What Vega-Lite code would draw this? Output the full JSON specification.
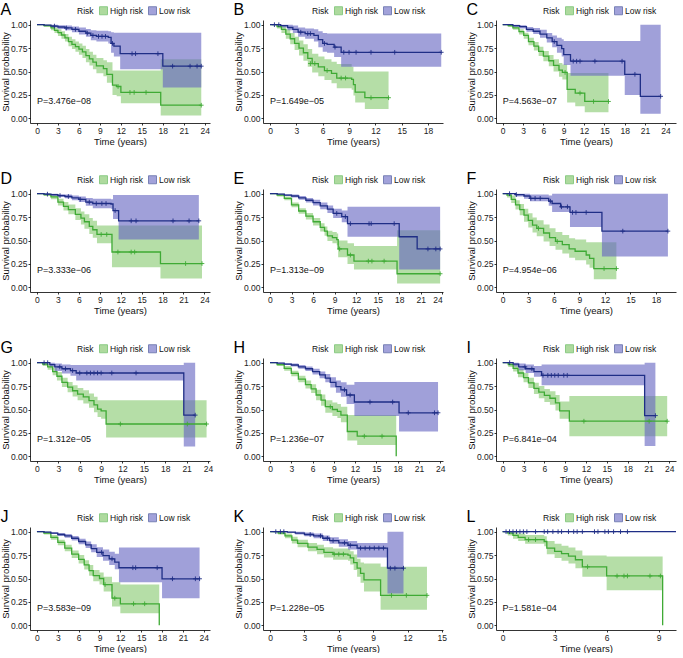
{
"$schema":"https://vega.github.io/schema/vega-lite/v6.json",
"background":"white",
"padding":{"left":0,"top":2,"right":0,"bottom":0},
"config":{
"font":"Liberation Sans",
"view":{"stroke":null},
"axis":{"grid":false,"domainColor":"#000","tickColor":"#000","domainWidth":0.8,"tickWidth":0.8,"tickSize":2,"labelColor":"#222","labelFontSize":8.5,"labelPadding":1,"titleFontSize":9.5,"titleFontWeight":"normal","titleColor":"#111","titlePadding":2},
"axisY":{"titlePadding":0},
"title":{"anchor":"start","frame":"bounds","fontSize":16,"fontWeight":"normal","offset":-12,"baseline":"alphabetic","color":"#000"},
"legend":{"orient":"none","direction":"horizontal","titleOrient":"left","titleFontSize":8.5,"titleFontWeight":"normal","titleColor":"#111","labelFontSize":8.5,"labelColor":"#111","symbolType":"square","symbolSize":64,"symbolOpacity":0.6,"titlePadding":5,"columnPadding":2,"labelOffset":2,"symbolStrokeWidth":1}
},
"datasets":{
"A":[
{"g":"H","t":0,"s":1,"l":1,"u":1},{"g":"H","t":1,"s":0.99,"l":0.975,"u":1},{"g":"H","t":2,"s":0.965,"l":0.94,"u":0.99},{"g":"H","t":2.5,"s":0.94,"l":0.91,"u":0.97},{"g":"H","t":3,"s":0.915,"l":0.88,"u":0.95},{"g":"H","t":3.5,"s":0.89,"l":0.85,"u":0.93},{"g":"H","t":4,"s":0.86,"l":0.82,"u":0.9},{"g":"H","t":4.5,"s":0.82,"l":0.77,"u":0.87},{"g":"H","t":5,"s":0.79,"l":0.74,"u":0.845},{"g":"H","t":5.5,"s":0.765,"l":0.71,"u":0.82},{"g":"H","t":6,"s":0.74,"l":0.68,"u":0.8},{"g":"H","t":6.5,"s":0.71,"l":0.645,"u":0.775},{"g":"H","t":7,"s":0.67,"l":0.6,"u":0.74},{"g":"H","t":7.5,"s":0.635,"l":0.565,"u":0.71},{"g":"H","t":8,"s":0.6,"l":0.525,"u":0.68},{"g":"H","t":8.5,"s":0.56,"l":0.48,"u":0.645},{"g":"H","t":9.5,"s":0.53,"l":0.45,"u":0.62},{"g":"H","t":10,"s":0.47,"l":0.38,"u":0.6},{"g":"H","t":10.8,"s":0.355,"l":0.25,"u":0.51},{"g":"H","t":11.4,"s":0.34,"l":0.235,"u":0.51},{"g":"H","t":12,"s":0.277,"l":0.16,"u":0.51},{"g":"H","t":17.7,"s":0.14,"l":0.03,"u":0.63},{"g":"H","t":23.5,"s":0.14,"l":0.03,"u":0.63},
{"g":"H","t":11.6,"s":0.34,"c":1},{"g":"H","t":13.3,"s":0.277,"c":1},{"g":"H","t":13.9,"s":0.277,"c":1},{"g":"H","t":15.6,"s":0.277,"c":1},{"g":"H","t":23.5,"s":0.14,"c":1},
{"g":"L","t":0,"s":1,"l":1,"u":1},{"g":"L","t":1,"s":0.995,"l":0.985,"u":1},{"g":"L","t":2,"s":0.985,"l":0.97,"u":1},{"g":"L","t":3,"s":0.975,"l":0.955,"u":0.995},{"g":"L","t":4,"s":0.965,"l":0.94,"u":0.99},{"g":"L","t":5,"s":0.95,"l":0.92,"u":0.98},{"g":"L","t":6,"s":0.93,"l":0.895,"u":0.97},{"g":"L","t":7,"s":0.91,"l":0.87,"u":0.955},{"g":"L","t":7.7,"s":0.885,"l":0.835,"u":0.94},{"g":"L","t":8.5,"s":0.875,"l":0.82,"u":0.935},{"g":"L","t":10.2,"s":0.865,"l":0.8,"u":0.93},{"g":"L","t":10.6,"s":0.8,"l":0.7,"u":0.92},{"g":"L","t":11,"s":0.77,"l":0.66,"u":0.915},{"g":"L","t":11.9,"s":0.69,"l":0.525,"u":0.915},{"g":"L","t":18,"s":0.557,"l":0.33,"u":0.915},{"g":"L","t":23.5,"s":0.557,"l":0.33,"u":0.915},
{"g":"L","t":2.5,"s":0.985,"c":1},{"g":"L","t":4.2,"s":0.965,"c":1},{"g":"L","t":5.5,"s":0.95,"c":1},{"g":"L","t":7.2,"s":0.91,"c":1},{"g":"L","t":8,"s":0.885,"c":1},{"g":"L","t":8.8,"s":0.875,"c":1},{"g":"L","t":9.3,"s":0.875,"c":1},{"g":"L","t":9.8,"s":0.875,"c":1},{"g":"L","t":10.8,"s":0.8,"c":1},{"g":"L","t":13.6,"s":0.69,"c":1},{"g":"L","t":14.1,"s":0.69,"c":1},{"g":"L","t":17.3,"s":0.69,"c":1},{"g":"L","t":19.4,"s":0.557,"c":1},{"g":"L","t":21.9,"s":0.557,"c":1},{"g":"L","t":22.9,"s":0.557,"c":1},{"g":"L","t":23.5,"s":0.557,"c":1}
],
"B":[
{"g":"H","t":0,"s":1,"l":1,"u":1},{"g":"H","t":0.8,"s":0.98,"l":0.96,"u":1},{"g":"H","t":1.3,"s":0.95,"l":0.91,"u":0.99},{"g":"H","t":1.8,"s":0.9,"l":0.85,"u":0.95},{"g":"H","t":2.3,"s":0.85,"l":0.79,"u":0.91},{"g":"H","t":2.8,"s":0.8,"l":0.73,"u":0.87},{"g":"H","t":3.3,"s":0.75,"l":0.67,"u":0.83},{"g":"H","t":3.8,"s":0.7,"l":0.615,"u":0.79},{"g":"H","t":4.3,"s":0.64,"l":0.55,"u":0.74},{"g":"H","t":4.8,"s":0.585,"l":0.49,"u":0.69},{"g":"H","t":5.5,"s":0.55,"l":0.45,"u":0.66},{"g":"H","t":6.2,"s":0.51,"l":0.41,"u":0.63},{"g":"H","t":7,"s":0.48,"l":0.375,"u":0.605},{"g":"H","t":7.6,"s":0.43,"l":0.32,"u":0.58},{"g":"H","t":9.3,"s":0.415,"l":0.305,"u":0.55},{"g":"H","t":9.5,"s":0.36,"l":0.245,"u":0.5},{"g":"H","t":9.7,"s":0.28,"l":0.17,"u":0.5},{"g":"H","t":10.8,"s":0.22,"l":0.1,"u":0.5},{"g":"H","t":13.5,"s":0.22,"l":0.1,"u":0.5},
{"g":"H","t":4.6,"s":0.585,"c":1},{"g":"H","t":5.1,"s":0.585,"c":1},{"g":"H","t":6.5,"s":0.51,"c":1},{"g":"H","t":8.1,"s":0.43,"c":1},{"g":"H","t":8.6,"s":0.43,"c":1},{"g":"H","t":11.5,"s":0.22,"c":1},{"g":"H","t":13.5,"s":0.22,"c":1},
{"g":"L","t":0,"s":1,"l":1,"u":1},{"g":"L","t":1.2,"s":0.99,"l":0.97,"u":1},{"g":"L","t":2,"s":0.97,"l":0.94,"u":1},{"g":"L","t":2.6,"s":0.95,"l":0.91,"u":0.99},{"g":"L","t":3.2,"s":0.92,"l":0.87,"u":0.97},{"g":"L","t":4,"s":0.905,"l":0.85,"u":0.96},{"g":"L","t":5,"s":0.885,"l":0.82,"u":0.95},{"g":"L","t":5.5,"s":0.84,"l":0.76,"u":0.93},{"g":"L","t":6,"s":0.8,"l":0.71,"u":0.91},{"g":"L","t":6.5,"s":0.79,"l":0.7,"u":0.905},{"g":"L","t":7.3,"s":0.76,"l":0.655,"u":0.905},{"g":"L","t":8.1,"s":0.705,"l":0.55,"u":0.905},{"g":"L","t":19.5,"s":0.705,"l":0.55,"u":0.905},
{"g":"L","t":0.5,"s":1,"c":1},{"g":"L","t":1,"s":1,"c":1},{"g":"L","t":3.5,"s":0.92,"c":1},{"g":"L","t":4.3,"s":0.905,"c":1},{"g":"L","t":4.6,"s":0.905,"c":1},{"g":"L","t":6.2,"s":0.8,"c":1},{"g":"L","t":7.4,"s":0.76,"c":1},{"g":"L","t":8.4,"s":0.705,"c":1},{"g":"L","t":9,"s":0.705,"c":1},{"g":"L","t":9.8,"s":0.705,"c":1},{"g":"L","t":11.5,"s":0.705,"c":1},{"g":"L","t":14.2,"s":0.705,"c":1},{"g":"L","t":19.5,"s":0.705,"c":1}
],
"C":[
{"g":"H","t":0,"s":1,"l":1,"u":1},{"g":"H","t":0.8,"s":0.99,"l":0.975,"u":1},{"g":"H","t":1.5,"s":0.965,"l":0.945,"u":0.985},{"g":"H","t":2.4,"s":0.925,"l":0.895,"u":0.95},{"g":"H","t":3.1,"s":0.885,"l":0.85,"u":0.915},{"g":"H","t":3.8,"s":0.82,"l":0.78,"u":0.86},{"g":"H","t":4.6,"s":0.77,"l":0.725,"u":0.815},{"g":"H","t":5.3,"s":0.715,"l":0.665,"u":0.765},{"g":"H","t":6,"s":0.665,"l":0.61,"u":0.72},{"g":"H","t":6.8,"s":0.615,"l":0.555,"u":0.675},{"g":"H","t":7.5,"s":0.565,"l":0.5,"u":0.63},{"g":"H","t":8.3,"s":0.515,"l":0.445,"u":0.59},{"g":"H","t":8.8,"s":0.49,"l":0.415,"u":0.575},{"g":"H","t":9.5,"s":0.31,"l":0.17,"u":0.485},{"g":"H","t":10.7,"s":0.27,"l":0.13,"u":0.485},{"g":"H","t":12.1,"s":0.18,"l":0.065,"u":0.485},{"g":"H","t":15.6,"s":0.18,"l":0.065,"u":0.485},
{"g":"H","t":9.2,"s":0.49,"c":1},{"g":"H","t":11.4,"s":0.27,"c":1},{"g":"H","t":13.4,"s":0.18,"c":1},{"g":"H","t":15.6,"s":0.18,"c":1},
{"g":"L","t":0,"s":1,"l":1,"u":1},{"g":"L","t":1.5,"s":0.99,"l":0.975,"u":1},{"g":"L","t":2.5,"s":0.98,"l":0.96,"u":0.995},{"g":"L","t":3.5,"s":0.95,"l":0.925,"u":0.975},{"g":"L","t":4.5,"s":0.93,"l":0.9,"u":0.965},{"g":"L","t":5.5,"s":0.9,"l":0.86,"u":0.945},{"g":"L","t":6.5,"s":0.86,"l":0.81,"u":0.91},{"g":"L","t":7.3,"s":0.82,"l":0.76,"u":0.885},{"g":"L","t":8,"s":0.78,"l":0.7,"u":0.86},{"g":"L","t":8.7,"s":0.745,"l":0.66,"u":0.845},{"g":"L","t":9,"s":0.68,"l":0.57,"u":0.825},{"g":"L","t":10,"s":0.61,"l":0.455,"u":0.825},{"g":"L","t":18,"s":0.47,"l":0.25,"u":0.825},{"g":"L","t":20.3,"s":0.235,"l":0.05,"u":1},{"g":"L","t":23.3,"s":0.235,"l":0.05,"u":1},
{"g":"L","t":7.6,"s":0.82,"c":1},{"g":"L","t":10.4,"s":0.61,"c":1},{"g":"L","t":10.9,"s":0.61,"c":1},{"g":"L","t":11.4,"s":0.61,"c":1},{"g":"L","t":13.6,"s":0.61,"c":1},{"g":"L","t":17.6,"s":0.61,"c":1},{"g":"L","t":19.5,"s":0.47,"c":1},{"g":"L","t":23.3,"s":0.235,"c":1}
],
"D":[
{"g":"H","t":0,"s":1,"l":1,"u":1},{"g":"H","t":1,"s":0.99,"l":0.975,"u":1},{"g":"H","t":2,"s":0.965,"l":0.94,"u":0.99},{"g":"H","t":3,"s":0.91,"l":0.875,"u":0.945},{"g":"H","t":3.8,"s":0.865,"l":0.82,"u":0.91},{"g":"H","t":4.5,"s":0.83,"l":0.78,"u":0.885},{"g":"H","t":5.5,"s":0.78,"l":0.72,"u":0.845},{"g":"H","t":6.3,"s":0.74,"l":0.67,"u":0.81},{"g":"H","t":6.8,"s":0.7,"l":0.625,"u":0.78},{"g":"H","t":7.5,"s":0.65,"l":0.57,"u":0.74},{"g":"H","t":8,"s":0.615,"l":0.53,"u":0.71},{"g":"H","t":8.6,"s":0.565,"l":0.47,"u":0.66},{"g":"H","t":10.75,"s":0.377,"l":0.215,"u":0.66},{"g":"H","t":17.7,"s":0.254,"l":0.095,"u":0.66},{"g":"H","t":23.65,"s":0.254,"l":0.095,"u":0.66},
{"g":"H","t":9.2,"s":0.565,"c":1},{"g":"H","t":10,"s":0.565,"c":1},{"g":"H","t":11.6,"s":0.377,"c":1},{"g":"H","t":13.5,"s":0.377,"c":1},{"g":"H","t":14,"s":0.377,"c":1},{"g":"H","t":21.3,"s":0.254,"c":1},{"g":"H","t":23.65,"s":0.254,"c":1},
{"g":"L","t":0,"s":1,"l":1,"u":1},{"g":"L","t":1,"s":0.995,"l":0.985,"u":1},{"g":"L","t":2,"s":0.99,"l":0.975,"u":1},{"g":"L","t":3,"s":0.98,"l":0.965,"u":0.995},{"g":"L","t":4,"s":0.97,"l":0.95,"u":0.99},{"g":"L","t":5,"s":0.955,"l":0.93,"u":0.98},{"g":"L","t":6,"s":0.94,"l":0.91,"u":0.97},{"g":"L","t":7,"s":0.91,"l":0.87,"u":0.955},{"g":"L","t":8,"s":0.895,"l":0.845,"u":0.945},{"g":"L","t":10.6,"s":0.89,"l":0.84,"u":0.94},{"g":"L","t":10.9,"s":0.82,"l":0.73,"u":0.985},{"g":"L","t":11.7,"s":0.71,"l":0.51,"u":0.985},{"g":"L","t":23.2,"s":0.71,"l":0.51,"u":0.985},
{"g":"L","t":1.5,"s":0.995,"c":1},{"g":"L","t":3.3,"s":0.98,"c":1},{"g":"L","t":4.5,"s":0.97,"c":1},{"g":"L","t":6.2,"s":0.94,"c":1},{"g":"L","t":7.5,"s":0.91,"c":1},{"g":"L","t":8.5,"s":0.895,"c":1},{"g":"L","t":9.3,"s":0.895,"c":1},{"g":"L","t":9.9,"s":0.895,"c":1},{"g":"L","t":11.2,"s":0.82,"c":1},{"g":"L","t":13.5,"s":0.71,"c":1},{"g":"L","t":14.2,"s":0.71,"c":1},{"g":"L","t":19.5,"s":0.71,"c":1},{"g":"L","t":21.8,"s":0.71,"c":1},{"g":"L","t":23.2,"s":0.71,"c":1}
],
"E":[
{"g":"H","t":0,"s":1,"l":1,"u":1},{"g":"H","t":1,"s":0.985,"l":0.97,"u":1},{"g":"H","t":2,"s":0.95,"l":0.93,"u":0.97},{"g":"H","t":3,"s":0.88,"l":0.855,"u":0.905},{"g":"H","t":4,"s":0.815,"l":0.785,"u":0.845},{"g":"H","t":5,"s":0.76,"l":0.725,"u":0.795},{"g":"H","t":6,"s":0.7,"l":0.66,"u":0.74},{"g":"H","t":7,"s":0.64,"l":0.595,"u":0.685},{"g":"H","t":7.6,"s":0.6,"l":0.55,"u":0.65},{"g":"H","t":8,"s":0.55,"l":0.495,"u":0.605},{"g":"H","t":8.7,"s":0.53,"l":0.47,"u":0.59},{"g":"H","t":9.3,"s":0.51,"l":0.45,"u":0.575},{"g":"H","t":9.5,"s":0.41,"l":0.32,"u":0.5},{"g":"H","t":10.8,"s":0.345,"l":0.25,"u":0.47},{"g":"H","t":11.7,"s":0.28,"l":0.19,"u":0.44},{"g":"H","t":17.7,"s":0.145,"l":0.04,"u":0.61},{"g":"H","t":23.7,"s":0.145,"l":0.04,"u":0.61},
{"g":"H","t":9.7,"s":0.41,"c":1},{"g":"H","t":11.2,"s":0.345,"c":1},{"g":"H","t":13.7,"s":0.28,"c":1},{"g":"H","t":14.2,"s":0.28,"c":1},{"g":"H","t":15.9,"s":0.28,"c":1},{"g":"H","t":23.7,"s":0.145,"c":1},
{"g":"L","t":0,"s":1,"l":1,"u":1},{"g":"L","t":1,"s":0.995,"l":0.99,"u":1},{"g":"L","t":2,"s":0.985,"l":0.975,"u":0.995},{"g":"L","t":3,"s":0.975,"l":0.96,"u":0.99},{"g":"L","t":4,"s":0.955,"l":0.935,"u":0.975},{"g":"L","t":5,"s":0.93,"l":0.905,"u":0.955},{"g":"L","t":6,"s":0.905,"l":0.875,"u":0.935},{"g":"L","t":7,"s":0.87,"l":0.835,"u":0.905},{"g":"L","t":8,"s":0.835,"l":0.795,"u":0.875},{"g":"L","t":8.8,"s":0.79,"l":0.74,"u":0.84},{"g":"L","t":10,"s":0.755,"l":0.695,"u":0.82},{"g":"L","t":10.8,"s":0.68,"l":0.54,"u":0.86},{"g":"L","t":18,"s":0.54,"l":0.19,"u":0.86},{"g":"L","t":20.5,"s":0.41,"l":0.19,"u":0.86},{"g":"L","t":23.7,"s":0.41,"l":0.19,"u":0.86},
{"g":"L","t":9.3,"s":0.79,"c":1},{"g":"L","t":10.5,"s":0.755,"c":1},{"g":"L","t":11.2,"s":0.68,"c":1},{"g":"L","t":13.8,"s":0.68,"c":1},{"g":"L","t":14.1,"s":0.68,"c":1},{"g":"L","t":17.3,"s":0.68,"c":1},{"g":"L","t":22,"s":0.41,"c":1},{"g":"L","t":23.1,"s":0.41,"c":1},{"g":"L","t":23.7,"s":0.41,"c":1}
],
"F":[
{"g":"H","t":0,"s":1,"l":1,"u":1},{"g":"H","t":0.5,"s":0.985,"l":0.96,"u":1},{"g":"H","t":1,"s":0.94,"l":0.9,"u":0.98},{"g":"H","t":1.5,"s":0.88,"l":0.83,"u":0.93},{"g":"H","t":2,"s":0.83,"l":0.77,"u":0.89},{"g":"H","t":2.5,"s":0.77,"l":0.7,"u":0.84},{"g":"H","t":3,"s":0.715,"l":0.64,"u":0.79},{"g":"H","t":3.5,"s":0.665,"l":0.585,"u":0.745},{"g":"H","t":4,"s":0.63,"l":0.545,"u":0.715},{"g":"H","t":4.8,"s":0.58,"l":0.49,"u":0.67},{"g":"H","t":5.5,"s":0.53,"l":0.44,"u":0.63},{"g":"H","t":6.2,"s":0.49,"l":0.4,"u":0.59},{"g":"H","t":7,"s":0.455,"l":0.36,"u":0.56},{"g":"H","t":7.8,"s":0.41,"l":0.315,"u":0.525},{"g":"H","t":8.5,"s":0.385,"l":0.29,"u":0.51},{"g":"H","t":9.8,"s":0.345,"l":0.245,"u":0.48},{"g":"H","t":10.2,"s":0.31,"l":0.21,"u":0.48},{"g":"H","t":10.7,"s":0.2,"l":0.085,"u":0.48},{"g":"H","t":13.35,"s":0.2,"l":0.085,"u":0.48},
{"g":"H","t":4.2,"s":0.63,"c":1},{"g":"H","t":6.4,"s":0.49,"c":1},{"g":"H","t":11.9,"s":0.2,"c":1},{"g":"H","t":13.35,"s":0.2,"c":1},
{"g":"L","t":0,"s":1,"l":1,"u":1},{"g":"L","t":1.5,"s":0.99,"l":0.97,"u":1},{"g":"L","t":2.5,"s":0.975,"l":0.945,"u":1},{"g":"L","t":3.2,"s":0.95,"l":0.92,"u":0.99},{"g":"L","t":5.4,"s":0.92,"l":0.87,"u":0.98},{"g":"L","t":5.8,"s":0.895,"l":0.805,"u":1},{"g":"L","t":6.8,"s":0.86,"l":0.805,"u":1},{"g":"L","t":7.9,"s":0.8,"l":0.645,"u":1},{"g":"L","t":11.65,"s":0.6,"l":0.33,"u":1},{"g":"L","t":19.4,"s":0.6,"l":0.33,"u":1},
{"g":"L","t":0.8,"s":1,"c":1},{"g":"L","t":1.6,"s":0.99,"c":1},{"g":"L","t":3.3,"s":0.95,"c":1},{"g":"L","t":3.8,"s":0.95,"c":1},{"g":"L","t":4.4,"s":0.95,"c":1},{"g":"L","t":5.6,"s":0.92,"c":1},{"g":"L","t":6.9,"s":0.86,"c":1},{"g":"L","t":7.6,"s":0.86,"c":1},{"g":"L","t":8.2,"s":0.8,"c":1},{"g":"L","t":8.6,"s":0.8,"c":1},{"g":"L","t":9.8,"s":0.8,"c":1},{"g":"L","t":14.1,"s":0.6,"c":1},{"g":"L","t":19.4,"s":0.6,"c":1}
],
"G":[
{"g":"H","t":0,"s":1,"l":1,"u":1},{"g":"H","t":0.8,"s":0.985,"l":0.965,"u":1},{"g":"H","t":1.5,"s":0.955,"l":0.925,"u":0.985},{"g":"H","t":2.2,"s":0.905,"l":0.865,"u":0.945},{"g":"H","t":2.8,"s":0.855,"l":0.81,"u":0.9},{"g":"H","t":3.5,"s":0.79,"l":0.74,"u":0.84},{"g":"H","t":4.3,"s":0.74,"l":0.685,"u":0.795},{"g":"H","t":5,"s":0.7,"l":0.64,"u":0.76},{"g":"H","t":5.7,"s":0.665,"l":0.6,"u":0.73},{"g":"H","t":6.5,"s":0.635,"l":0.565,"u":0.705},{"g":"H","t":7.3,"s":0.595,"l":0.52,"u":0.67},{"g":"H","t":8,"s":0.55,"l":0.47,"u":0.635},{"g":"H","t":8.5,"s":0.505,"l":0.42,"u":0.6},{"g":"H","t":9,"s":0.485,"l":0.4,"u":0.6},{"g":"H","t":9.7,"s":0.345,"l":0.2,"u":0.6},{"g":"H","t":23.8,"s":0.345,"l":0.2,"u":0.6},
{"g":"H","t":11.7,"s":0.345,"c":1},{"g":"H","t":21.1,"s":0.345,"c":1},{"g":"H","t":23.8,"s":0.345,"c":1},
{"g":"L","t":0,"s":1,"l":1,"u":1},{"g":"L","t":1.8,"s":0.98,"l":0.95,"u":1},{"g":"L","t":2.5,"s":0.955,"l":0.91,"u":0.99},{"g":"L","t":3.5,"s":0.935,"l":0.885,"u":0.98},{"g":"L","t":4.7,"s":0.915,"l":0.86,"u":0.975},{"g":"L","t":5.5,"s":0.89,"l":0.81,"u":0.975},{"g":"L","t":20.6,"s":0.44,"l":0.105,"u":1},{"g":"L","t":22.2,"s":0.44,"l":0.105,"u":1},
{"g":"L","t":1,"s":1,"c":1},{"g":"L","t":1.5,"s":1,"c":1},{"g":"L","t":3.2,"s":0.955,"c":1},{"g":"L","t":4,"s":0.935,"c":1},{"g":"L","t":5,"s":0.915,"c":1},{"g":"L","t":6,"s":0.89,"c":1},{"g":"L","t":7,"s":0.89,"c":1},{"g":"L","t":7.5,"s":0.89,"c":1},{"g":"L","t":8,"s":0.89,"c":1},{"g":"L","t":8.5,"s":0.89,"c":1},{"g":"L","t":9,"s":0.89,"c":1},{"g":"L","t":10.5,"s":0.89,"c":1},{"g":"L","t":13.9,"s":0.89,"c":1},{"g":"L","t":22.2,"s":0.44,"c":1}
],
"H":[
{"g":"H","t":0,"s":1,"l":1,"u":1},{"g":"H","t":1,"s":0.98,"l":0.965,"u":0.995},{"g":"H","t":2,"s":0.94,"l":0.915,"u":0.965},{"g":"H","t":3,"s":0.885,"l":0.855,"u":0.915},{"g":"H","t":4,"s":0.825,"l":0.79,"u":0.86},{"g":"H","t":5,"s":0.765,"l":0.725,"u":0.81},{"g":"H","t":5.8,"s":0.72,"l":0.675,"u":0.77},{"g":"H","t":6.5,"s":0.655,"l":0.6,"u":0.71},{"g":"H","t":7.2,"s":0.6,"l":0.54,"u":0.66},{"g":"H","t":7.8,"s":0.53,"l":0.465,"u":0.6},{"g":"H","t":8.8,"s":0.5,"l":0.43,"u":0.575},{"g":"H","t":9.5,"s":0.48,"l":0.41,"u":0.56},{"g":"H","t":10,"s":0.44,"l":0.365,"u":0.53},{"g":"H","t":10.9,"s":0.265,"l":0.17,"u":0.44},{"g":"H","t":12.3,"s":0.215,"l":0.12,"u":0.44},{"g":"H","t":17.8,"s":0,"l":0.12,"u":0.44},
{"g":"H","t":8.5,"s":0.53,"c":1},{"g":"H","t":13.3,"s":0.215,"c":1},{"g":"H","t":15.8,"s":0.215,"c":1},
{"g":"L","t":0,"s":1,"l":1,"u":1},{"g":"L","t":1,"s":0.995,"l":0.99,"u":1},{"g":"L","t":2,"s":0.985,"l":0.975,"u":0.995},{"g":"L","t":3,"s":0.975,"l":0.96,"u":0.99},{"g":"L","t":4,"s":0.955,"l":0.935,"u":0.975},{"g":"L","t":5,"s":0.935,"l":0.91,"u":0.96},{"g":"L","t":6,"s":0.905,"l":0.875,"u":0.935},{"g":"L","t":7,"s":0.87,"l":0.835,"u":0.905},{"g":"L","t":7.8,"s":0.835,"l":0.79,"u":0.88},{"g":"L","t":8.5,"s":0.79,"l":0.735,"u":0.845},{"g":"L","t":9.3,"s":0.745,"l":0.68,"u":0.81},{"g":"L","t":10,"s":0.71,"l":0.635,"u":0.79},{"g":"L","t":10.8,"s":0.655,"l":0.56,"u":0.765},{"g":"L","t":11.9,"s":0.58,"l":0.43,"u":0.795},{"g":"L","t":18.2,"s":0.465,"l":0.265,"u":0.795},{"g":"L","t":23.7,"s":0.465,"l":0.265,"u":0.795},
{"g":"L","t":10.5,"s":0.71,"c":1},{"g":"L","t":11.3,"s":0.655,"c":1},{"g":"L","t":14.1,"s":0.58,"c":1},{"g":"L","t":17.3,"s":0.58,"c":1},{"g":"L","t":19.5,"s":0.465,"c":1},{"g":"L","t":23.2,"s":0.465,"c":1},{"g":"L","t":23.7,"s":0.465,"c":1}
],
"I":[
{"g":"H","t":0,"s":1,"l":1,"u":1},{"g":"H","t":0.8,"s":0.98,"l":0.955,"u":1},{"g":"H","t":1.5,"s":0.94,"l":0.905,"u":0.975},{"g":"H","t":2.2,"s":0.89,"l":0.845,"u":0.935},{"g":"H","t":3,"s":0.84,"l":0.79,"u":0.89},{"g":"H","t":3.7,"s":0.785,"l":0.73,"u":0.84},{"g":"H","t":4.5,"s":0.725,"l":0.665,"u":0.785},{"g":"H","t":5.2,"s":0.685,"l":0.62,"u":0.75},{"g":"H","t":6,"s":0.65,"l":0.58,"u":0.72},{"g":"H","t":6.8,"s":0.62,"l":0.55,"u":0.695},{"g":"H","t":7.6,"s":0.57,"l":0.49,"u":0.655},{"g":"H","t":8.2,"s":0.485,"l":0.4,"u":0.585},{"g":"H","t":9.6,"s":0.375,"l":0.215,"u":0.645},{"g":"H","t":23.7,"s":0.375,"l":0.215,"u":0.645},
{"g":"H","t":11.7,"s":0.375,"c":1},{"g":"H","t":21.1,"s":0.375,"c":1},{"g":"H","t":23.7,"s":0.375,"c":1},
{"g":"L","t":0,"s":1,"l":1,"u":1},{"g":"L","t":1.5,"s":0.985,"l":0.96,"u":1},{"g":"L","t":2.3,"s":0.955,"l":0.92,"u":0.99},{"g":"L","t":3.3,"s":0.935,"l":0.89,"u":0.98},{"g":"L","t":4.5,"s":0.905,"l":0.85,"u":0.965},{"g":"L","t":5.6,"s":0.865,"l":0.76,"u":0.98},{"g":"L","t":20.45,"s":0.435,"l":0.11,"u":1},{"g":"L","t":22,"s":0.435,"l":0.11,"u":1},
{"g":"L","t":1,"s":1,"c":1},{"g":"L","t":3.2,"s":0.955,"c":1},{"g":"L","t":4.2,"s":0.935,"c":1},{"g":"L","t":5.8,"s":0.865,"c":1},{"g":"L","t":6.5,"s":0.865,"c":1},{"g":"L","t":7,"s":0.865,"c":1},{"g":"L","t":7.5,"s":0.865,"c":1},{"g":"L","t":8,"s":0.865,"c":1},{"g":"L","t":8.8,"s":0.865,"c":1},{"g":"L","t":9.3,"s":0.865,"c":1},{"g":"L","t":22,"s":0.435,"c":1}
],
"J":[
{"g":"H","t":0,"s":1,"l":1,"u":1},{"g":"H","t":1,"s":0.985,"l":0.97,"u":1},{"g":"H","t":2,"s":0.94,"l":0.915,"u":0.965},{"g":"H","t":3,"s":0.885,"l":0.855,"u":0.915},{"g":"H","t":4,"s":0.825,"l":0.79,"u":0.86},{"g":"H","t":5,"s":0.76,"l":0.72,"u":0.8},{"g":"H","t":6,"s":0.705,"l":0.66,"u":0.75},{"g":"H","t":6.8,"s":0.645,"l":0.595,"u":0.695},{"g":"H","t":7.5,"s":0.585,"l":0.53,"u":0.645},{"g":"H","t":8.1,"s":0.53,"l":0.47,"u":0.59},{"g":"H","t":9,"s":0.5,"l":0.435,"u":0.565},{"g":"H","t":9.6,"s":0.435,"l":0.36,"u":0.52},{"g":"H","t":10.8,"s":0.29,"l":0.2,"u":0.46},{"g":"H","t":12,"s":0.23,"l":0.13,"u":0.435},{"g":"H","t":17.6,"s":0,"l":0.13,"u":0.435},
{"g":"H","t":9.8,"s":0.435,"c":1},{"g":"H","t":11.2,"s":0.29,"c":1},{"g":"H","t":13.9,"s":0.23,"c":1},{"g":"H","t":15.5,"s":0.23,"c":1},
{"g":"L","t":0,"s":1,"l":1,"u":1},{"g":"L","t":1,"s":0.995,"l":0.99,"u":1},{"g":"L","t":2,"s":0.985,"l":0.975,"u":0.995},{"g":"L","t":3,"s":0.97,"l":0.955,"u":0.985},{"g":"L","t":4,"s":0.955,"l":0.935,"u":0.975},{"g":"L","t":5,"s":0.93,"l":0.905,"u":0.955},{"g":"L","t":6,"s":0.895,"l":0.865,"u":0.925},{"g":"L","t":7,"s":0.86,"l":0.825,"u":0.895},{"g":"L","t":7.8,"s":0.82,"l":0.78,"u":0.865},{"g":"L","t":8.6,"s":0.78,"l":0.73,"u":0.835},{"g":"L","t":9.5,"s":0.745,"l":0.69,"u":0.81},{"g":"L","t":10.4,"s":0.71,"l":0.645,"u":0.785},{"g":"L","t":11.2,"s":0.675,"l":0.6,"u":0.765},{"g":"L","t":11.8,"s":0.615,"l":0.46,"u":0.83},{"g":"L","t":18,"s":0.497,"l":0.29,"u":0.83},{"g":"L","t":23.4,"s":0.497,"l":0.29,"u":0.83},
{"g":"L","t":9.3,"s":0.78,"c":1},{"g":"L","t":10.8,"s":0.71,"c":1},{"g":"L","t":13.8,"s":0.615,"c":1},{"g":"L","t":14.2,"s":0.615,"c":1},{"g":"L","t":17.3,"s":0.615,"c":1},{"g":"L","t":19.5,"s":0.497,"c":1},{"g":"L","t":22.8,"s":0.497,"c":1},{"g":"L","t":23.4,"s":0.497,"c":1}
],
"K":[
{"g":"H","t":0,"s":1,"l":1,"u":1},{"g":"H","t":0.7,"s":0.985,"l":0.97,"u":1},{"g":"H","t":1.3,"s":0.955,"l":0.93,"u":0.98},{"g":"H","t":1.9,"s":0.91,"l":0.875,"u":0.945},{"g":"H","t":2.4,"s":0.875,"l":0.835,"u":0.915},{"g":"H","t":3.3,"s":0.835,"l":0.79,"u":0.88},{"g":"H","t":4.1,"s":0.81,"l":0.76,"u":0.86},{"g":"H","t":4.7,"s":0.78,"l":0.725,"u":0.835},{"g":"H","t":5.5,"s":0.76,"l":0.7,"u":0.82},{"g":"H","t":6.8,"s":0.75,"l":0.69,"u":0.815},{"g":"H","t":7,"s":0.72,"l":0.65,"u":0.79},{"g":"H","t":7.3,"s":0.67,"l":0.59,"u":0.755},{"g":"H","t":7.6,"s":0.61,"l":0.52,"u":0.71},{"g":"H","t":7.9,"s":0.555,"l":0.455,"u":0.67},{"g":"H","t":8.2,"s":0.485,"l":0.36,"u":0.66},{"g":"H","t":9.65,"s":0.32,"l":0.165,"u":0.625},{"g":"H","t":13.7,"s":0.32,"l":0.165,"u":0.625},
{"g":"H","t":5.6,"s":0.76,"c":1},{"g":"H","t":6,"s":0.76,"c":1},{"g":"H","t":6.4,"s":0.76,"c":1},{"g":"H","t":10.6,"s":0.32,"c":1},{"g":"H","t":11.9,"s":0.32,"c":1},{"g":"H","t":13.7,"s":0.32,"c":1},
{"g":"L","t":0,"s":1,"l":1,"u":1},{"g":"L","t":1.5,"s":0.995,"l":0.985,"u":1},{"g":"L","t":2.2,"s":0.985,"l":0.97,"u":1},{"g":"L","t":3,"s":0.97,"l":0.95,"u":0.99},{"g":"L","t":3.8,"s":0.955,"l":0.93,"u":0.98},{"g":"L","t":4.6,"s":0.93,"l":0.9,"u":0.96},{"g":"L","t":5.2,"s":0.905,"l":0.87,"u":0.94},{"g":"L","t":6,"s":0.88,"l":0.84,"u":0.92},{"g":"L","t":6.8,"s":0.855,"l":0.81,"u":0.9},{"g":"L","t":7.6,"s":0.825,"l":0.725,"u":0.88},{"g":"L","t":10.25,"s":0.61,"l":0.34,"u":1},{"g":"L","t":11.65,"s":0.61,"l":0.34,"u":1},
{"g":"L","t":0.5,"s":1,"c":1},{"g":"L","t":0.9,"s":1,"c":1},{"g":"L","t":1.2,"s":1,"c":1},{"g":"L","t":3.5,"s":0.97,"c":1},{"g":"L","t":4.4,"s":0.955,"c":1},{"g":"L","t":5,"s":0.93,"c":1},{"g":"L","t":5.5,"s":0.905,"c":1},{"g":"L","t":6.5,"s":0.88,"c":1},{"g":"L","t":7,"s":0.855,"c":1},{"g":"L","t":7.9,"s":0.825,"c":1},{"g":"L","t":8.3,"s":0.825,"c":1},{"g":"L","t":8.7,"s":0.825,"c":1},{"g":"L","t":9.1,"s":0.825,"c":1},{"g":"L","t":9.5,"s":0.825,"c":1},{"g":"L","t":9.9,"s":0.825,"c":1},{"g":"L","t":10.5,"s":0.61,"c":1},{"g":"L","t":10.9,"s":0.61,"c":1},{"g":"L","t":11.65,"s":0.61,"c":1}
],
"L":[
{"g":"H","t":0,"s":1,"l":1,"u":1},{"g":"H","t":0.3,"s":0.985,"l":0.96,"u":1},{"g":"H","t":0.6,"s":0.96,"l":0.925,"u":0.995},{"g":"H","t":0.9,"s":0.94,"l":0.9,"u":0.98},{"g":"H","t":1.3,"s":0.915,"l":0.87,"u":0.965},{"g":"H","t":2.4,"s":0.895,"l":0.845,"u":0.95},{"g":"H","t":2.55,"s":0.825,"l":0.76,"u":0.9},{"g":"H","t":3,"s":0.79,"l":0.72,"u":0.87},{"g":"H","t":3.4,"s":0.765,"l":0.69,"u":0.85},{"g":"H","t":3.8,"s":0.74,"l":0.66,"u":0.83},{"g":"H","t":4.2,"s":0.7,"l":0.61,"u":0.8},{"g":"H","t":4.6,"s":0.625,"l":0.52,"u":0.745},{"g":"H","t":6,"s":0.527,"l":0.375,"u":0.735},{"g":"H","t":9.23,"s":0,"l":0.375,"u":0.735},
{"g":"H","t":1.5,"s":0.915,"c":1},{"g":"H","t":1.9,"s":0.915,"c":1},{"g":"H","t":4.9,"s":0.625,"c":1},{"g":"H","t":6.6,"s":0.527,"c":1},{"g":"H","t":7,"s":0.527,"c":1},{"g":"H","t":7.2,"s":0.527,"c":1},{"g":"H","t":8.5,"s":0.527,"c":1},{"g":"H","t":9.1,"s":0.527,"c":1},
{"g":"L","t":0,"s":1,"l":1,"u":1},{"g":"L","t":10,"s":1,"l":1,"u":1},
{"g":"L","t":0.2,"s":1,"c":1},{"g":"L","t":0.4,"s":1,"c":1},{"g":"L","t":0.6,"s":1,"c":1},{"g":"L","t":0.8,"s":1,"c":1},{"g":"L","t":1,"s":1,"c":1},{"g":"L","t":1.2,"s":1,"c":1},{"g":"L","t":1.4,"s":1,"c":1},{"g":"L","t":1.9,"s":1,"c":1},{"g":"L","t":2.4,"s":1,"c":1},{"g":"L","t":2.6,"s":1,"c":1},{"g":"L","t":2.9,"s":1,"c":1},{"g":"L","t":3.2,"s":1,"c":1},{"g":"L","t":3.4,"s":1,"c":1},{"g":"L","t":3.8,"s":1,"c":1},{"g":"L","t":4.1,"s":1,"c":1},{"g":"L","t":4.3,"s":1,"c":1},{"g":"L","t":4.6,"s":1,"c":1},{"g":"L","t":5.3,"s":1,"c":1},{"g":"L","t":5.5,"s":1,"c":1},{"g":"L","t":5.9,"s":1,"c":1},{"g":"L","t":6.1,"s":1,"c":1},{"g":"L","t":6.4,"s":1,"c":1},{"g":"L","t":6.8,"s":1,"c":1},{"g":"L","t":7.2,"s":1,"c":1}
]
},
"columns":3,
"spacing":{"row":66,"column":53},
"bounds":"flush",
"resolve":{"scale":{"fill":"independent","stroke":"independent","fillOpacity":"independent"},"legend":{"fill":"independent","stroke":"independent"}},
"concat":[
{"title":"A","width":180,"height":103,"data":{"name":"A"},
"encoding":{"x":{"field":"t","type":"quantitative","title":"Time (years)","scale":{"domain":[-1.0,24.75],"nice":false,"zero":false},"axis":{"values":[0,3,6,9,12,15,18,21,24]}},"y":{"field":"s","type":"quantitative","title":"Survival probability","scale":{"domain":[-0.05,1.05],"nice":false,"zero":false},"axis":{"values":[0,0.25,0.5,0.75,1],"format":".2f"}}},
"layer":[
{"transform":[{"filter":"!datum.c"}],"mark":{"type":"area","interpolate":"step-after"},"encoding":{"y":{"field":"l","type":"quantitative","title":"Survival probability","scale":{"domain":[-0.05,1.05],"nice":false,"zero":false}},"y2":{"field":"u"},"fillOpacity":{"field":"g","type":"nominal","scale":{"domain":["H","L"],"range":[0.55,0.62]},"legend":null},"fill":{"field":"g","type":"nominal","scale":{"domain":["H","L"],"range":["#79C25F","#6666C2"]},"legend":{"title":"Risk","legendX":47,"legendY":-14,"labelExpr":"datum.label == 'H' ? 'High risk' : 'Low risk'"}}}},
{"transform":[{"filter":"!datum.c"}],"mark":{"type":"line","interpolate":"step-after","strokeWidth":1.3},"encoding":{"stroke":{"field":"g","type":"nominal","scale":{"domain":["H","L"],"range":["#3FAA35","#1F2E86"]},"legend":{"title":"Risk","legendX":47,"legendY":-14,"labelExpr":"datum.label == 'H' ? 'High risk' : 'Low risk'"}}}},
{"transform":[{"filter":"datum.c"}],"mark":{"type":"point","shape":"M-1,0H1M0,-1V1","filled":false,"size":22,"strokeWidth":0.9,"opacity":1},"encoding":{"stroke":{"field":"g","type":"nominal","scale":{"domain":["H","L"],"range":["#3FAA35","#1F2E86"]},"legend":{"title":"Risk","legendX":47,"legendY":-14,"labelExpr":"datum.label == 'H' ? 'High risk' : 'Low risk'"}}}},
{"data":{"values":[{"t":0,"s":0.19,"p":"P=3.476e−08"}]},"mark":{"type":"text","align":"left","baseline":"middle","fontSize":9,"color":"#111"},"encoding":{"text":{"field":"p"}}}
]},
{"title":"B","width":180,"height":103,"data":{"name":"B"},
"encoding":{"x":{"field":"t","type":"quantitative","title":"Time (years)","scale":{"domain":[-0.8,19.7],"nice":false,"zero":false},"axis":{"values":[0,3,6,9,12,15,18]}},"y":{"field":"s","type":"quantitative","title":"Survival probability","scale":{"domain":[-0.05,1.05],"nice":false,"zero":false},"axis":{"values":[0,0.25,0.5,0.75,1],"format":".2f"}}},
"layer":[
{"transform":[{"filter":"!datum.c"}],"mark":{"type":"area","interpolate":"step-after"},"encoding":{"y":{"field":"l","type":"quantitative","title":"Survival probability","scale":{"domain":[-0.05,1.05],"nice":false,"zero":false}},"y2":{"field":"u"},"fillOpacity":{"field":"g","type":"nominal","scale":{"domain":["H","L"],"range":[0.55,0.62]},"legend":null},"fill":{"field":"g","type":"nominal","scale":{"domain":["H","L"],"range":["#79C25F","#6666C2"]},"legend":{"title":"Risk","legendX":49,"legendY":-14,"labelExpr":"datum.label == 'H' ? 'High risk' : 'Low risk'"}}}},
{"transform":[{"filter":"!datum.c"}],"mark":{"type":"line","interpolate":"step-after","strokeWidth":1.3},"encoding":{"stroke":{"field":"g","type":"nominal","scale":{"domain":["H","L"],"range":["#3FAA35","#1F2E86"]},"legend":{"title":"Risk","legendX":49,"legendY":-14,"labelExpr":"datum.label == 'H' ? 'High risk' : 'Low risk'"}}}},
{"transform":[{"filter":"datum.c"}],"mark":{"type":"point","shape":"M-1,0H1M0,-1V1","filled":false,"size":22,"strokeWidth":0.9,"opacity":1},"encoding":{"stroke":{"field":"g","type":"nominal","scale":{"domain":["H","L"],"range":["#3FAA35","#1F2E86"]},"legend":{"title":"Risk","legendX":49,"legendY":-14,"labelExpr":"datum.label == 'H' ? 'High risk' : 'Low risk'"}}}},
{"data":{"values":[{"t":0,"s":0.19,"p":"P=1.649e−05"}]},"mark":{"type":"text","align":"left","baseline":"middle","fontSize":9,"color":"#111"},"encoding":{"text":{"field":"p"}}}
]},
{"title":"C","width":180,"height":103,"data":{"name":"C"},
"encoding":{"x":{"field":"t","type":"quantitative","title":"Time (years)","scale":{"domain":[-0.99,25.56],"nice":false,"zero":false},"axis":{"values":[0,3,6,9,12,15,18,21,24]}},"y":{"field":"s","type":"quantitative","title":"Survival probability","scale":{"domain":[-0.05,1.05],"nice":false,"zero":false},"axis":{"values":[0,0.25,0.5,0.75,1],"format":".2f"}}},
"layer":[
{"transform":[{"filter":"!datum.c"}],"mark":{"type":"area","interpolate":"step-after"},"encoding":{"y":{"field":"l","type":"quantitative","title":"Survival probability","scale":{"domain":[-0.05,1.05],"nice":false,"zero":false}},"y2":{"field":"u"},"fillOpacity":{"field":"g","type":"nominal","scale":{"domain":["H","L"],"range":[0.55,0.62]},"legend":null},"fill":{"field":"g","type":"nominal","scale":{"domain":["H","L"],"range":["#79C25F","#6666C2"]},"legend":{"title":"Risk","legendX":47,"legendY":-14,"labelExpr":"datum.label == 'H' ? 'High risk' : 'Low risk'"}}}},
{"transform":[{"filter":"!datum.c"}],"mark":{"type":"line","interpolate":"step-after","strokeWidth":1.3},"encoding":{"stroke":{"field":"g","type":"nominal","scale":{"domain":["H","L"],"range":["#3FAA35","#1F2E86"]},"legend":{"title":"Risk","legendX":47,"legendY":-14,"labelExpr":"datum.label == 'H' ? 'High risk' : 'Low risk'"}}}},
{"transform":[{"filter":"datum.c"}],"mark":{"type":"point","shape":"M-1,0H1M0,-1V1","filled":false,"size":22,"strokeWidth":0.9,"opacity":1},"encoding":{"stroke":{"field":"g","type":"nominal","scale":{"domain":["H","L"],"range":["#3FAA35","#1F2E86"]},"legend":{"title":"Risk","legendX":47,"legendY":-14,"labelExpr":"datum.label == 'H' ? 'High risk' : 'Low risk'"}}}},
{"data":{"values":[{"t":0,"s":0.19,"p":"P=4.563e−07"}]},"mark":{"type":"text","align":"left","baseline":"middle","fontSize":9,"color":"#111"},"encoding":{"text":{"field":"p"}}}
]},
{"title":"D","width":180,"height":103,"data":{"name":"D"},
"encoding":{"x":{"field":"t","type":"quantitative","title":"Time (years)","scale":{"domain":[-1.0,24.8],"nice":false,"zero":false},"axis":{"values":[0,3,6,9,12,15,18,21,24]}},"y":{"field":"s","type":"quantitative","title":"Survival probability","scale":{"domain":[-0.05,1.05],"nice":false,"zero":false},"axis":{"values":[0,0.25,0.5,0.75,1],"format":".2f"}}},
"layer":[
{"transform":[{"filter":"!datum.c"}],"mark":{"type":"area","interpolate":"step-after"},"encoding":{"y":{"field":"l","type":"quantitative","title":"Survival probability","scale":{"domain":[-0.05,1.05],"nice":false,"zero":false}},"y2":{"field":"u"},"fillOpacity":{"field":"g","type":"nominal","scale":{"domain":["H","L"],"range":[0.55,0.62]},"legend":null},"fill":{"field":"g","type":"nominal","scale":{"domain":["H","L"],"range":["#79C25F","#6666C2"]},"legend":{"title":"Risk","legendX":47,"legendY":-14,"labelExpr":"datum.label == 'H' ? 'High risk' : 'Low risk'"}}}},
{"transform":[{"filter":"!datum.c"}],"mark":{"type":"line","interpolate":"step-after","strokeWidth":1.3},"encoding":{"stroke":{"field":"g","type":"nominal","scale":{"domain":["H","L"],"range":["#3FAA35","#1F2E86"]},"legend":{"title":"Risk","legendX":47,"legendY":-14,"labelExpr":"datum.label == 'H' ? 'High risk' : 'Low risk'"}}}},
{"transform":[{"filter":"datum.c"}],"mark":{"type":"point","shape":"M-1,0H1M0,-1V1","filled":false,"size":22,"strokeWidth":0.9,"opacity":1},"encoding":{"stroke":{"field":"g","type":"nominal","scale":{"domain":["H","L"],"range":["#3FAA35","#1F2E86"]},"legend":{"title":"Risk","legendX":47,"legendY":-14,"labelExpr":"datum.label == 'H' ? 'High risk' : 'Low risk'"}}}},
{"data":{"values":[{"t":0,"s":0.19,"p":"P=3.333e−06"}]},"mark":{"type":"text","align":"left","baseline":"middle","fontSize":9,"color":"#111"},"encoding":{"text":{"field":"p"}}}
]},
{"title":"E","width":180,"height":103,"data":{"name":"E"},
"encoding":{"x":{"field":"t","type":"quantitative","title":"Time (years)","scale":{"domain":[-0.97,24.1],"nice":false,"zero":false},"axis":{"values":[0,3,6,9,12,15,18,21,24]}},"y":{"field":"s","type":"quantitative","title":"Survival probability","scale":{"domain":[-0.05,1.05],"nice":false,"zero":false},"axis":{"values":[0,0.25,0.5,0.75,1],"format":".2f"}}},
"layer":[
{"transform":[{"filter":"!datum.c"}],"mark":{"type":"area","interpolate":"step-after"},"encoding":{"y":{"field":"l","type":"quantitative","title":"Survival probability","scale":{"domain":[-0.05,1.05],"nice":false,"zero":false}},"y2":{"field":"u"},"fillOpacity":{"field":"g","type":"nominal","scale":{"domain":["H","L"],"range":[0.55,0.62]},"legend":null},"fill":{"field":"g","type":"nominal","scale":{"domain":["H","L"],"range":["#79C25F","#6666C2"]},"legend":{"title":"Risk","legendX":49,"legendY":-14,"labelExpr":"datum.label == 'H' ? 'High risk' : 'Low risk'"}}}},
{"transform":[{"filter":"!datum.c"}],"mark":{"type":"line","interpolate":"step-after","strokeWidth":1.3},"encoding":{"stroke":{"field":"g","type":"nominal","scale":{"domain":["H","L"],"range":["#3FAA35","#1F2E86"]},"legend":{"title":"Risk","legendX":49,"legendY":-14,"labelExpr":"datum.label == 'H' ? 'High risk' : 'Low risk'"}}}},
{"transform":[{"filter":"datum.c"}],"mark":{"type":"point","shape":"M-1,0H1M0,-1V1","filled":false,"size":22,"strokeWidth":0.9,"opacity":1},"encoding":{"stroke":{"field":"g","type":"nominal","scale":{"domain":["H","L"],"range":["#3FAA35","#1F2E86"]},"legend":{"title":"Risk","legendX":49,"legendY":-14,"labelExpr":"datum.label == 'H' ? 'High risk' : 'Low risk'"}}}},
{"data":{"values":[{"t":0,"s":0.19,"p":"P=1.313e−09"}]},"mark":{"type":"text","align":"left","baseline":"middle","fontSize":9,"color":"#111"},"encoding":{"text":{"field":"p"}}}
]},
{"title":"F","width":180,"height":103,"data":{"name":"F"},
"encoding":{"x":{"field":"t","type":"quantitative","title":"Time (years)","scale":{"domain":[-0.79,20.35],"nice":false,"zero":false},"axis":{"values":[0,3,6,9,12,15,18]}},"y":{"field":"s","type":"quantitative","title":"Survival probability","scale":{"domain":[-0.05,1.05],"nice":false,"zero":false},"axis":{"values":[0,0.25,0.5,0.75,1],"format":".2f"}}},
"layer":[
{"transform":[{"filter":"!datum.c"}],"mark":{"type":"area","interpolate":"step-after"},"encoding":{"y":{"field":"l","type":"quantitative","title":"Survival probability","scale":{"domain":[-0.05,1.05],"nice":false,"zero":false}},"y2":{"field":"u"},"fillOpacity":{"field":"g","type":"nominal","scale":{"domain":["H","L"],"range":[0.55,0.62]},"legend":null},"fill":{"field":"g","type":"nominal","scale":{"domain":["H","L"],"range":["#79C25F","#6666C2"]},"legend":{"title":"Risk","legendX":47,"legendY":-14,"labelExpr":"datum.label == 'H' ? 'High risk' : 'Low risk'"}}}},
{"transform":[{"filter":"!datum.c"}],"mark":{"type":"line","interpolate":"step-after","strokeWidth":1.3},"encoding":{"stroke":{"field":"g","type":"nominal","scale":{"domain":["H","L"],"range":["#3FAA35","#1F2E86"]},"legend":{"title":"Risk","legendX":47,"legendY":-14,"labelExpr":"datum.label == 'H' ? 'High risk' : 'Low risk'"}}}},
{"transform":[{"filter":"datum.c"}],"mark":{"type":"point","shape":"M-1,0H1M0,-1V1","filled":false,"size":22,"strokeWidth":0.9,"opacity":1},"encoding":{"stroke":{"field":"g","type":"nominal","scale":{"domain":["H","L"],"range":["#3FAA35","#1F2E86"]},"legend":{"title":"Risk","legendX":47,"legendY":-14,"labelExpr":"datum.label == 'H' ? 'High risk' : 'Low risk'"}}}},
{"data":{"values":[{"t":0,"s":0.19,"p":"P=4.954e−06"}]},"mark":{"type":"text","align":"left","baseline":"middle","fontSize":9,"color":"#111"},"encoding":{"text":{"field":"p"}}}
]},
{"title":"G","width":180,"height":103,"data":{"name":"G"},
"encoding":{"x":{"field":"t","type":"quantitative","title":"Time (years)","scale":{"domain":[-0.98,24.28],"nice":false,"zero":false},"axis":{"values":[0,3,6,9,12,15,18,21,24]}},"y":{"field":"s","type":"quantitative","title":"Survival probability","scale":{"domain":[-0.05,1.05],"nice":false,"zero":false},"axis":{"values":[0,0.25,0.5,0.75,1],"format":".2f"}}},
"layer":[
{"transform":[{"filter":"!datum.c"}],"mark":{"type":"area","interpolate":"step-after"},"encoding":{"y":{"field":"l","type":"quantitative","title":"Survival probability","scale":{"domain":[-0.05,1.05],"nice":false,"zero":false}},"y2":{"field":"u"},"fillOpacity":{"field":"g","type":"nominal","scale":{"domain":["H","L"],"range":[0.55,0.62]},"legend":null},"fill":{"field":"g","type":"nominal","scale":{"domain":["H","L"],"range":["#79C25F","#6666C2"]},"legend":{"title":"Risk","legendX":47,"legendY":-14,"labelExpr":"datum.label == 'H' ? 'High risk' : 'Low risk'"}}}},
{"transform":[{"filter":"!datum.c"}],"mark":{"type":"line","interpolate":"step-after","strokeWidth":1.3},"encoding":{"stroke":{"field":"g","type":"nominal","scale":{"domain":["H","L"],"range":["#3FAA35","#1F2E86"]},"legend":{"title":"Risk","legendX":47,"legendY":-14,"labelExpr":"datum.label == 'H' ? 'High risk' : 'Low risk'"}}}},
{"transform":[{"filter":"datum.c"}],"mark":{"type":"point","shape":"M-1,0H1M0,-1V1","filled":false,"size":22,"strokeWidth":0.9,"opacity":1},"encoding":{"stroke":{"field":"g","type":"nominal","scale":{"domain":["H","L"],"range":["#3FAA35","#1F2E86"]},"legend":{"title":"Risk","legendX":47,"legendY":-14,"labelExpr":"datum.label == 'H' ? 'High risk' : 'Low risk'"}}}},
{"data":{"values":[{"t":0,"s":0.19,"p":"P=1.312e−05"}]},"mark":{"type":"text","align":"left","baseline":"middle","fontSize":9,"color":"#111"},"encoding":{"text":{"field":"p"}}}
]},
{"title":"H","width":180,"height":103,"data":{"name":"H"},
"encoding":{"x":{"field":"t","type":"quantitative","title":"Time (years)","scale":{"domain":[-0.99,24.4],"nice":false,"zero":false},"axis":{"values":[0,3,6,9,12,15,18,21,24]}},"y":{"field":"s","type":"quantitative","title":"Survival probability","scale":{"domain":[-0.05,1.05],"nice":false,"zero":false},"axis":{"values":[0,0.25,0.5,0.75,1],"format":".2f"}}},
"layer":[
{"transform":[{"filter":"!datum.c"}],"mark":{"type":"area","interpolate":"step-after"},"encoding":{"y":{"field":"l","type":"quantitative","title":"Survival probability","scale":{"domain":[-0.05,1.05],"nice":false,"zero":false}},"y2":{"field":"u"},"fillOpacity":{"field":"g","type":"nominal","scale":{"domain":["H","L"],"range":[0.55,0.62]},"legend":null},"fill":{"field":"g","type":"nominal","scale":{"domain":["H","L"],"range":["#79C25F","#6666C2"]},"legend":{"title":"Risk","legendX":49,"legendY":-14,"labelExpr":"datum.label == 'H' ? 'High risk' : 'Low risk'"}}}},
{"transform":[{"filter":"!datum.c"}],"mark":{"type":"line","interpolate":"step-after","strokeWidth":1.3},"encoding":{"stroke":{"field":"g","type":"nominal","scale":{"domain":["H","L"],"range":["#3FAA35","#1F2E86"]},"legend":{"title":"Risk","legendX":49,"legendY":-14,"labelExpr":"datum.label == 'H' ? 'High risk' : 'Low risk'"}}}},
{"transform":[{"filter":"datum.c"}],"mark":{"type":"point","shape":"M-1,0H1M0,-1V1","filled":false,"size":22,"strokeWidth":0.9,"opacity":1},"encoding":{"stroke":{"field":"g","type":"nominal","scale":{"domain":["H","L"],"range":["#3FAA35","#1F2E86"]},"legend":{"title":"Risk","legendX":49,"legendY":-14,"labelExpr":"datum.label == 'H' ? 'High risk' : 'Low risk'"}}}},
{"data":{"values":[{"t":0,"s":0.19,"p":"P=1.236e−07"}]},"mark":{"type":"text","align":"left","baseline":"middle","fontSize":9,"color":"#111"},"encoding":{"text":{"field":"p"}}}
]},
{"title":"I","width":180,"height":103,"data":{"name":"I"},
"encoding":{"x":{"field":"t","type":"quantitative","title":"Time (years)","scale":{"domain":[-0.97,24.97],"nice":false,"zero":false},"axis":{"values":[0,3,6,9,12,15,18,21,24]}},"y":{"field":"s","type":"quantitative","title":"Survival probability","scale":{"domain":[-0.05,1.05],"nice":false,"zero":false},"axis":{"values":[0,0.25,0.5,0.75,1],"format":".2f"}}},
"layer":[
{"transform":[{"filter":"!datum.c"}],"mark":{"type":"area","interpolate":"step-after"},"encoding":{"y":{"field":"l","type":"quantitative","title":"Survival probability","scale":{"domain":[-0.05,1.05],"nice":false,"zero":false}},"y2":{"field":"u"},"fillOpacity":{"field":"g","type":"nominal","scale":{"domain":["H","L"],"range":[0.55,0.62]},"legend":null},"fill":{"field":"g","type":"nominal","scale":{"domain":["H","L"],"range":["#79C25F","#6666C2"]},"legend":{"title":"Risk","legendX":47,"legendY":-14,"labelExpr":"datum.label == 'H' ? 'High risk' : 'Low risk'"}}}},
{"transform":[{"filter":"!datum.c"}],"mark":{"type":"line","interpolate":"step-after","strokeWidth":1.3},"encoding":{"stroke":{"field":"g","type":"nominal","scale":{"domain":["H","L"],"range":["#3FAA35","#1F2E86"]},"legend":{"title":"Risk","legendX":47,"legendY":-14,"labelExpr":"datum.label == 'H' ? 'High risk' : 'Low risk'"}}}},
{"transform":[{"filter":"datum.c"}],"mark":{"type":"point","shape":"M-1,0H1M0,-1V1","filled":false,"size":22,"strokeWidth":0.9,"opacity":1},"encoding":{"stroke":{"field":"g","type":"nominal","scale":{"domain":["H","L"],"range":["#3FAA35","#1F2E86"]},"legend":{"title":"Risk","legendX":47,"legendY":-14,"labelExpr":"datum.label == 'H' ? 'High risk' : 'Low risk'"}}}},
{"data":{"values":[{"t":0,"s":0.19,"p":"P=6.841e−04"}]},"mark":{"type":"text","align":"left","baseline":"middle","fontSize":9,"color":"#111"},"encoding":{"text":{"field":"p"}}}
]},
{"title":"J","width":180,"height":103,"data":{"name":"J"},
"encoding":{"x":{"field":"t","type":"quantitative","title":"Time (years)","scale":{"domain":[-1.0,24.9],"nice":false,"zero":false},"axis":{"values":[0,3,6,9,12,15,18,21,24]}},"y":{"field":"s","type":"quantitative","title":"Survival probability","scale":{"domain":[-0.05,1.05],"nice":false,"zero":false},"axis":{"values":[0,0.25,0.5,0.75,1],"format":".2f"}}},
"layer":[
{"transform":[{"filter":"!datum.c"}],"mark":{"type":"area","interpolate":"step-after"},"encoding":{"y":{"field":"l","type":"quantitative","title":"Survival probability","scale":{"domain":[-0.05,1.05],"nice":false,"zero":false}},"y2":{"field":"u"},"fillOpacity":{"field":"g","type":"nominal","scale":{"domain":["H","L"],"range":[0.55,0.62]},"legend":null},"fill":{"field":"g","type":"nominal","scale":{"domain":["H","L"],"range":["#79C25F","#6666C2"]},"legend":{"title":"Risk","legendX":47,"legendY":-14,"labelExpr":"datum.label == 'H' ? 'High risk' : 'Low risk'"}}}},
{"transform":[{"filter":"!datum.c"}],"mark":{"type":"line","interpolate":"step-after","strokeWidth":1.3},"encoding":{"stroke":{"field":"g","type":"nominal","scale":{"domain":["H","L"],"range":["#3FAA35","#1F2E86"]},"legend":{"title":"Risk","legendX":47,"legendY":-14,"labelExpr":"datum.label == 'H' ? 'High risk' : 'Low risk'"}}}},
{"transform":[{"filter":"datum.c"}],"mark":{"type":"point","shape":"M-1,0H1M0,-1V1","filled":false,"size":22,"strokeWidth":0.9,"opacity":1},"encoding":{"stroke":{"field":"g","type":"nominal","scale":{"domain":["H","L"],"range":["#3FAA35","#1F2E86"]},"legend":{"title":"Risk","legendX":47,"legendY":-14,"labelExpr":"datum.label == 'H' ? 'High risk' : 'Low risk'"}}}},
{"data":{"values":[{"t":0,"s":0.19,"p":"P=3.583e−09"}]},"mark":{"type":"text","align":"left","baseline":"middle","fontSize":9,"color":"#111"},"encoding":{"text":{"field":"p"}}}
]},
{"title":"K","width":180,"height":103,"data":{"name":"K"},
"encoding":{"x":{"field":"t","type":"quantitative","title":"Time (years)","scale":{"domain":[-0.62,15.1],"nice":false,"zero":false},"axis":{"values":[0,3,6,9,12,15]}},"y":{"field":"s","type":"quantitative","title":"Survival probability","scale":{"domain":[-0.05,1.05],"nice":false,"zero":false},"axis":{"values":[0,0.25,0.5,0.75,1],"format":".2f"}}},
"layer":[
{"transform":[{"filter":"!datum.c"}],"mark":{"type":"area","interpolate":"step-after"},"encoding":{"y":{"field":"l","type":"quantitative","title":"Survival probability","scale":{"domain":[-0.05,1.05],"nice":false,"zero":false}},"y2":{"field":"u"},"fillOpacity":{"field":"g","type":"nominal","scale":{"domain":["H","L"],"range":[0.55,0.62]},"legend":null},"fill":{"field":"g","type":"nominal","scale":{"domain":["H","L"],"range":["#79C25F","#6666C2"]},"legend":{"title":"Risk","legendX":49,"legendY":-14,"labelExpr":"datum.label == 'H' ? 'High risk' : 'Low risk'"}}}},
{"transform":[{"filter":"!datum.c"}],"mark":{"type":"line","interpolate":"step-after","strokeWidth":1.3},"encoding":{"stroke":{"field":"g","type":"nominal","scale":{"domain":["H","L"],"range":["#3FAA35","#1F2E86"]},"legend":{"title":"Risk","legendX":49,"legendY":-14,"labelExpr":"datum.label == 'H' ? 'High risk' : 'Low risk'"}}}},
{"transform":[{"filter":"datum.c"}],"mark":{"type":"point","shape":"M-1,0H1M0,-1V1","filled":false,"size":22,"strokeWidth":0.9,"opacity":1},"encoding":{"stroke":{"field":"g","type":"nominal","scale":{"domain":["H","L"],"range":["#3FAA35","#1F2E86"]},"legend":{"title":"Risk","legendX":49,"legendY":-14,"labelExpr":"datum.label == 'H' ? 'High risk' : 'Low risk'"}}}},
{"data":{"values":[{"t":0,"s":0.19,"p":"P=1.228e−05"}]},"mark":{"type":"text","align":"left","baseline":"middle","fontSize":9,"color":"#111"},"encoding":{"text":{"field":"p"}}}
]},
{"title":"L","width":180,"height":103,"data":{"name":"L"},
"encoding":{"x":{"field":"t","type":"quantitative","title":"Time (years)","scale":{"domain":[-0.38,10.0],"nice":false,"zero":false},"axis":{"values":[0,3,6,9]}},"y":{"field":"s","type":"quantitative","title":"Survival probability","scale":{"domain":[-0.05,1.05],"nice":false,"zero":false},"axis":{"values":[0,0.25,0.5,0.75,1],"format":".2f"}}},
"layer":[
{"transform":[{"filter":"!datum.c"}],"mark":{"type":"area","interpolate":"step-after"},"encoding":{"y":{"field":"l","type":"quantitative","title":"Survival probability","scale":{"domain":[-0.05,1.05],"nice":false,"zero":false}},"y2":{"field":"u"},"fillOpacity":{"field":"g","type":"nominal","scale":{"domain":["H","L"],"range":[0.55,0.62]},"legend":null},"fill":{"field":"g","type":"nominal","scale":{"domain":["H","L"],"range":["#79C25F","#6666C2"]},"legend":{"title":"Risk","legendX":47,"legendY":-14,"labelExpr":"datum.label == 'H' ? 'High risk' : 'Low risk'"}}}},
{"transform":[{"filter":"!datum.c"}],"mark":{"type":"line","interpolate":"step-after","strokeWidth":1.3},"encoding":{"stroke":{"field":"g","type":"nominal","scale":{"domain":["H","L"],"range":["#3FAA35","#1F2E86"]},"legend":{"title":"Risk","legendX":47,"legendY":-14,"labelExpr":"datum.label == 'H' ? 'High risk' : 'Low risk'"}}}},
{"transform":[{"filter":"datum.c"}],"mark":{"type":"point","shape":"M-1,0H1M0,-1V1","filled":false,"size":22,"strokeWidth":0.9,"opacity":1},"encoding":{"stroke":{"field":"g","type":"nominal","scale":{"domain":["H","L"],"range":["#3FAA35","#1F2E86"]},"legend":{"title":"Risk","legendX":47,"legendY":-14,"labelExpr":"datum.label == 'H' ? 'High risk' : 'Low risk'"}}}},
{"data":{"values":[{"t":0,"s":0.19,"p":"P=1.581e−04"}]},"mark":{"type":"text","align":"left","baseline":"middle","fontSize":9,"color":"#111"},"encoding":{"text":{"field":"p"}}}
]}
]
}
